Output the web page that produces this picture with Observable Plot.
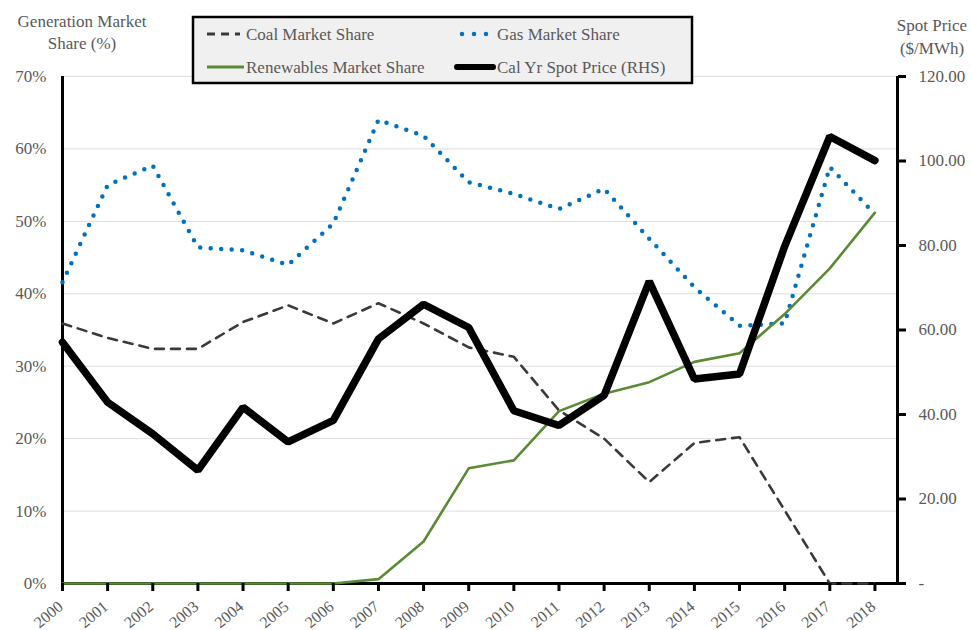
<!DOCTYPE html>
<html><head><meta charset="utf-8">
<script src="https://cdn.jsdelivr.net/npm/d3@7"></script>
<script src="https://cdn.jsdelivr.net/npm/@observablehq/plot@0.6"></script>
<style>
body{margin:0;background:#fff;}
#wrap{position:relative;width:971px;height:630px;overflow:hidden;font-family:"Liberation Serif","Times New Roman",serif;}
#wrap svg{position:absolute;left:0;top:0;font-family:"Liberation Serif","Times New Roman",serif;}
</style></head><body><div id="wrap"></div>
<script>
// ---- data ----
const years = [2000,2001,2002,2003,2004,2005,2006,2007,2008,2009,2010,2011,2012,2013,2014,2015,2016,2017,2018];
const coalShare  = [35.9,33.9,32.4,32.4,36.1,38.4,35.9,38.7,35.9,32.6,31.3,23.9,20.0,14.0,19.4,20.2,10.1,0,0];
const gasShare   = [41.6,55.0,57.7,46.4,46.0,44.0,49.7,64.0,61.8,55.4,53.8,51.7,54.5,47.6,40.9,35.6,35.9,57.5,51.0];
const renewShare = [0,0,0,0,0,0,0,0.6,5.8,15.9,17.0,23.8,26.2,27.8,30.6,31.8,37.2,43.5,51.2];
const spotPrice  = [57.1,42.9,35.4,26.8,41.7,33.5,38.6,57.9,66.1,60.6,40.9,37.4,44.5,71.5,48.4,49.6,79.8,105.8,100.1];
const shareTicks = [0,10,20,30,40,50,60,70];
const priceTicks = [0,20,40,60,80,100,120];
const seriesNames = ["Coal Market Share","Gas Market Share","Renewables Market Share","Cal Yr Spot Price (RHS)"];
const leftTitle = ["Generation Market","Share (%)"];
const rightTitle = ["Spot Price","($/MWh)"];

const SHARE_MAX = 70, PRICE_MAX = 120;
const toY = p => p / PRICE_MAX * SHARE_MAX;
const rows = years.map((year,i)=>({year, coal: coalShare[i], gas: gasShare[i], renew: renewShare[i], spot: toY(spotPrice[i])}));

const styles = {
  coal:  {stroke:"#3a3a3a", strokeWidth:2.6, strokeDasharray:"9,7"},
  gas:   {stroke:"#0070C0", strokeWidth:4.5, strokeDasharray:"0,10.5", strokeLinecap:"round"},
  renew: {stroke:"#5B8A35", strokeWidth:2.6},
  spot:  {stroke:"#000000", strokeWidth:7.5, strokeLinecap:"round", strokeLinejoin:"miter"}
};
const TXT = "#595959";
const FONT = "'Liberation Serif','Times New Roman',serif";

const chart = Plot.plot({
  width:971, height:630, marginLeft:62, marginRight:74, marginTop:76, marginBottom:47,
  style:{fontFamily:FONT, fontSize:"17px", color:TXT, background:"transparent", overflow:"visible"},
  x:{type:"linear", domain:[2000, 2018.5]},
  y:{domain:[0, SHARE_MAX]},
  marks:[
    Plot.gridY(shareTicks.filter(d=>d>0), {stroke:"#dcdcdc", strokeOpacity:1, strokeWidth:1}),
    Plot.ruleX([2000],{y1:0,y2:SHARE_MAX,stroke:"#000",strokeWidth:3}),
    Plot.ruleX([2018.5],{y1:0,y2:SHARE_MAX,stroke:"#000",strokeWidth:3}),
    Plot.ruleY([0],{x1:2000,x2:2018.6,stroke:"#000",strokeWidth:3}),
    Plot.line(rows,{x:"year",y:"coal",...styles.coal}),
    Plot.line(rows,{x:"year",y:"gas",...styles.gas}),
    Plot.line(rows,{x:"year",y:"renew",...styles.renew}),
    Plot.line(rows,{x:"year",y:"spot",...styles.spot}),
    Plot.axisY({anchor:"left", ticks:shareTicks, tickSize:0, tickPadding:16, tickFormat:d=>d+"%", fill:TXT, label:null}),
    Plot.axisY({anchor:"right", ticks:priceTicks.map(toY), tickSize:8, tickPadding:13, stroke:"#000", strokeWidth:3,
      tickFormat:d=>{const p=Math.round(d/SHARE_MAX*PRICE_MAX); return p===0?"-":p.toFixed(2);}, fill:TXT, label:null}),
    Plot.axisX({ticks:years, tickSize:8, stroke:"#000", strokeWidth:3, tickFormat:()=>"", label:null})
  ]
});
const wrap = document.getElementById("wrap");
wrap.appendChild(chart);
const xs = chart.scale("x"), ys = chart.scale("y");

// ---- overlay: rotated year labels, legend, axis titles ----
const svg = d3.select(wrap).append("svg").attr("width",971).attr("height",630).style("font-family",FONT);
const y0 = ys.apply(0);
years.forEach(yr=>{
  svg.append("g").attr("transform",`translate(${xs.apply(yr)-1.5},${y0+21}) rotate(-40)`)
    .append("text").attr("text-anchor","end").attr("dy","0.35em")
    .attr("font-size",16).attr("fill",TXT).text(String(yr));
});
svg.append("rect").attr("x",193).attr("y",17).attr("width",499).attr("height",66)
  .attr("fill","#f0f0f0").attr("stroke","#000").attr("stroke-width",2.5);
const keys = ["coal","gas","renew","spot"];
const pos = [{sx1:207,sx2:240,tx:246,y:34},{sx1:462,sx2:487,tx:497,y:34},{sx1:207,sx2:244,tx:246,y:67},{sx1:457,sx2:493,tx:497,y:67}];
keys.forEach((k,i)=>{
  const s = styles[k], p = pos[i];
  svg.append("line").attr("x1",p.sx1).attr("x2",p.sx2).attr("y1",p.y).attr("y2",p.y)
    .attr("stroke",s.stroke)
    .attr("stroke-width", k==="spot"?6:(k==="gas"?4.5:3))
    .attr("stroke-dasharray", k==="coal"?"8,6":(k==="gas"?"0,12":null))
    .attr("stroke-linecap", (k==="gas"||k==="spot")?"round":"butt");
  svg.append("text").attr("x",p.tx).attr("y",p.y).attr("dy","0.35em")
    .attr("font-size",17).attr("fill",TXT).text(seriesNames[i]);
});
leftTitle.forEach((t,i)=>svg.append("text").attr("x",82).attr("y",21+i*22).attr("dy","0.35em")
  .attr("text-anchor","middle").attr("font-size",17).attr("fill",TXT).text(t));
rightTitle.forEach((t,i)=>svg.append("text").attr("x",932).attr("y",25+i*23).attr("dy","0.35em")
  .attr("text-anchor","middle").attr("font-size",17).attr("fill",TXT).text(t));
</script></body></html>
